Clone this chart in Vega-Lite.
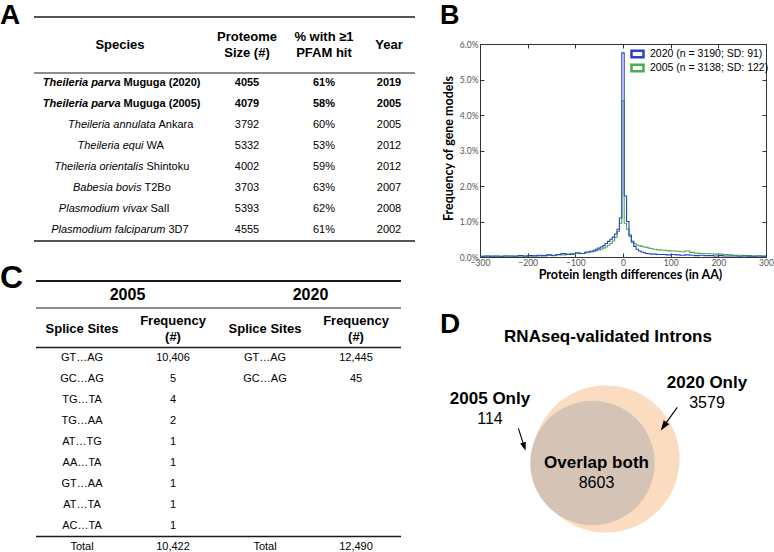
{
  "$schema": "https://vega.github.io/schema/vega-lite/v6.json",
  "width": 774,
  "height": 552,
  "padding": 0,
  "autosize": {"type": "none"},
  "background": "white",
  "config": {"view": {"stroke": null}, "font": "Liberation Sans", "text": {"color": "black"}},
  "datasets": {
    "tA": [
      {"row": 1, "species": "Theileria parva", "strain": "Muguga (2020)", "size": 4055, "pfam": "61%", "year": 2019},
      {"row": 2, "species": "Theileria parva", "strain": "Muguga (2005)", "size": 4079, "pfam": "58%", "year": 2005},
      {"row": 3, "species": "Theileria annulata", "strain": "Ankara", "size": 3792, "pfam": "60%", "year": 2005},
      {"row": 4, "species": "Theileria equi", "strain": "WA", "size": 5332, "pfam": "53%", "year": 2012},
      {"row": 5, "species": "Theileria orientalis", "strain": "Shintoku", "size": 4002, "pfam": "59%", "year": 2012},
      {"row": 6, "species": "Babesia bovis", "strain": "T2Bo", "size": 3703, "pfam": "63%", "year": 2007},
      {"row": 7, "species": "Plasmodium vivax", "strain": "SalI", "size": 5393, "pfam": "62%", "year": 2008},
      {"row": 8, "species": "Plasmodium falciparum", "strain": "3D7", "size": 4555, "pfam": "61%", "year": 2002}
    ],
    "headA": [
      {"col": 0, "label": "Species"},
      {"col": 1, "label": "Proteome\nSize (#)"},
      {"col": 2, "label": "% with ≥1\nPFAM hit"},
      {"col": 3, "label": "Year"}
    ],
    "colsA": [{"key": "size", "col": 1}, {"key": "pfam", "col": 2}, {"key": "year", "col": 3}],
    "letters": [{"id": 1, "letter": "A"}, {"id": 2, "letter": "B"}, {"id": 3, "letter": "C"}, {"id": 4, "letter": "D"}],
    "histLegend": [
      {"yr": 2020, "label": "2020 (n = 3190; SD:  91)"},
      {"yr": 2005, "label": "2005 (n = 3138; SD: 122)"}
    ],
    "hist": [
      {"yr": 2020, "d": -300, "p": 0.02}, {"yr": 2020, "d": -290, "p": 0.03}, {"yr": 2020, "d": -280, "p": 0.02}, {"yr": 2020, "d": -270, "p": 0.03},
      {"yr": 2020, "d": -260, "p": 0.02}, {"yr": 2020, "d": -250, "p": 0.03}, {"yr": 2020, "d": -240, "p": 0.03}, {"yr": 2020, "d": -230, "p": 0.02},
      {"yr": 2020, "d": -220, "p": 0.04}, {"yr": 2020, "d": -210, "p": 0.03}, {"yr": 2020, "d": -200, "p": 0.04}, {"yr": 2020, "d": -190, "p": 0.03},
      {"yr": 2020, "d": -180, "p": 0.05}, {"yr": 2020, "d": -170, "p": 0.04}, {"yr": 2020, "d": -160, "p": 0.06}, {"yr": 2020, "d": -150, "p": 0.05},
      {"yr": 2020, "d": -140, "p": 0.07}, {"yr": 2020, "d": -130, "p": 0.1}, {"yr": 2020, "d": -120, "p": 0.07}, {"yr": 2020, "d": -110, "p": 0.09},
      {"yr": 2020, "d": -100, "p": 0.12}, {"yr": 2020, "d": -90, "p": 0.1}, {"yr": 2020, "d": -80, "p": 0.14}, {"yr": 2020, "d": -70, "p": 0.16},
      {"yr": 2020, "d": -62.5, "p": 0.19}, {"yr": 2020, "d": -57.5, "p": 0.22}, {"yr": 2020, "d": -52.5, "p": 0.25}, {"yr": 2020, "d": -47.5, "p": 0.28},
      {"yr": 2020, "d": -42.5, "p": 0.32}, {"yr": 2020, "d": -37.5, "p": 0.38}, {"yr": 2020, "d": -32.5, "p": 0.44}, {"yr": 2020, "d": -27.5, "p": 0.5},
      {"yr": 2020, "d": -22.5, "p": 0.56}, {"yr": 2020, "d": -17.5, "p": 0.65}, {"yr": 2020, "d": -12.5, "p": 0.78}, {"yr": 2020, "d": -7.5, "p": 1.1},
      {"yr": 2020, "d": -2.5, "p": 5.75}, {"yr": 2020, "d": 2.5, "p": 1.72}, {"yr": 2020, "d": 7.5, "p": 1.0}, {"yr": 2020, "d": 12.5, "p": 0.62},
      {"yr": 2020, "d": 17.5, "p": 0.42}, {"yr": 2020, "d": 22.5, "p": 0.3}, {"yr": 2020, "d": 27.5, "p": 0.22}, {"yr": 2020, "d": 32.5, "p": 0.17},
      {"yr": 2020, "d": 37.5, "p": 0.14}, {"yr": 2020, "d": 42.5, "p": 0.12}, {"yr": 2020, "d": 47.5, "p": 0.1}, {"yr": 2020, "d": 52.5, "p": 0.09},
      {"yr": 2020, "d": 57.5, "p": 0.08}, {"yr": 2020, "d": 62.5, "p": 0.08}, {"yr": 2020, "d": 70, "p": 0.07}, {"yr": 2020, "d": 80, "p": 0.07},
      {"yr": 2020, "d": 90, "p": 0.06}, {"yr": 2020, "d": 100, "p": 0.07}, {"yr": 2020, "d": 110, "p": 0.06}, {"yr": 2020, "d": 120, "p": 0.05},
      {"yr": 2020, "d": 130, "p": 0.06}, {"yr": 2020, "d": 140, "p": 0.05}, {"yr": 2020, "d": 150, "p": 0.04}, {"yr": 2020, "d": 160, "p": 0.05},
      {"yr": 2020, "d": 170, "p": 0.04}, {"yr": 2020, "d": 180, "p": 0.04}, {"yr": 2020, "d": 190, "p": 0.03}, {"yr": 2020, "d": 200, "p": 0.04},
      {"yr": 2020, "d": 210, "p": 0.03}, {"yr": 2020, "d": 220, "p": 0.03}, {"yr": 2020, "d": 230, "p": 0.03}, {"yr": 2020, "d": 240, "p": 0.02},
      {"yr": 2020, "d": 250, "p": 0.03}, {"yr": 2020, "d": 260, "p": 0.02}, {"yr": 2020, "d": 270, "p": 0.02}, {"yr": 2020, "d": 280, "p": 0.03},
      {"yr": 2020, "d": 290, "p": 0.02}, {"yr": 2020, "d": 300, "p": 0.02},
      {"yr": 2005, "d": -300, "p": 0.02}, {"yr": 2005, "d": -290, "p": 0.02}, {"yr": 2005, "d": -280, "p": 0.03}, {"yr": 2005, "d": -270, "p": 0.02},
      {"yr": 2005, "d": -260, "p": 0.02}, {"yr": 2005, "d": -250, "p": 0.03}, {"yr": 2005, "d": -240, "p": 0.02}, {"yr": 2005, "d": -230, "p": 0.03},
      {"yr": 2005, "d": -220, "p": 0.03}, {"yr": 2005, "d": -210, "p": 0.02}, {"yr": 2005, "d": -200, "p": 0.03}, {"yr": 2005, "d": -190, "p": 0.04},
      {"yr": 2005, "d": -180, "p": 0.03}, {"yr": 2005, "d": -170, "p": 0.04}, {"yr": 2005, "d": -160, "p": 0.05}, {"yr": 2005, "d": -150, "p": 0.04},
      {"yr": 2005, "d": -140, "p": 0.06}, {"yr": 2005, "d": -130, "p": 0.06}, {"yr": 2005, "d": -120, "p": 0.08}, {"yr": 2005, "d": -110, "p": 0.07},
      {"yr": 2005, "d": -100, "p": 0.09}, {"yr": 2005, "d": -90, "p": 0.1}, {"yr": 2005, "d": -80, "p": 0.12}, {"yr": 2005, "d": -70, "p": 0.14},
      {"yr": 2005, "d": -62.5, "p": 0.16}, {"yr": 2005, "d": -57.5, "p": 0.18}, {"yr": 2005, "d": -52.5, "p": 0.2}, {"yr": 2005, "d": -47.5, "p": 0.22},
      {"yr": 2005, "d": -42.5, "p": 0.25}, {"yr": 2005, "d": -37.5, "p": 0.28}, {"yr": 2005, "d": -32.5, "p": 0.33}, {"yr": 2005, "d": -27.5, "p": 0.38},
      {"yr": 2005, "d": -22.5, "p": 0.45}, {"yr": 2005, "d": -17.5, "p": 0.55}, {"yr": 2005, "d": -12.5, "p": 0.72}, {"yr": 2005, "d": -7.5, "p": 0.95},
      {"yr": 2005, "d": -2.5, "p": 4.4}, {"yr": 2005, "d": 2.5, "p": 0.95}, {"yr": 2005, "d": 7.5, "p": 0.78}, {"yr": 2005, "d": 12.5, "p": 0.58},
      {"yr": 2005, "d": 17.5, "p": 0.45}, {"yr": 2005, "d": 22.5, "p": 0.38}, {"yr": 2005, "d": 27.5, "p": 0.34}, {"yr": 2005, "d": 32.5, "p": 0.32},
      {"yr": 2005, "d": 37.5, "p": 0.3}, {"yr": 2005, "d": 42.5, "p": 0.28}, {"yr": 2005, "d": 47.5, "p": 0.27}, {"yr": 2005, "d": 52.5, "p": 0.25},
      {"yr": 2005, "d": 57.5, "p": 0.24}, {"yr": 2005, "d": 62.5, "p": 0.22}, {"yr": 2005, "d": 70, "p": 0.2}, {"yr": 2005, "d": 80, "p": 0.19},
      {"yr": 2005, "d": 90, "p": 0.18}, {"yr": 2005, "d": 100, "p": 0.17}, {"yr": 2005, "d": 110, "p": 0.16}, {"yr": 2005, "d": 120, "p": 0.15},
      {"yr": 2005, "d": 130, "p": 0.17}, {"yr": 2005, "d": 140, "p": 0.13}, {"yr": 2005, "d": 150, "p": 0.11}, {"yr": 2005, "d": 160, "p": 0.1},
      {"yr": 2005, "d": 170, "p": 0.1}, {"yr": 2005, "d": 180, "p": 0.09}, {"yr": 2005, "d": 190, "p": 0.08}, {"yr": 2005, "d": 200, "p": 0.08},
      {"yr": 2005, "d": 210, "p": 0.07}, {"yr": 2005, "d": 220, "p": 0.06}, {"yr": 2005, "d": 230, "p": 0.05}, {"yr": 2005, "d": 240, "p": 0.05},
      {"yr": 2005, "d": 250, "p": 0.04}, {"yr": 2005, "d": 260, "p": 0.04}, {"yr": 2005, "d": 270, "p": 0.03}, {"yr": 2005, "d": 280, "p": 0.03},
      {"yr": 2005, "d": 290, "p": 0.03}, {"yr": 2005, "d": 300, "p": 0.03}
    ],
    "tC": [
      {"row": 1, "s2005": "GT…AG", "f2005": 10406, "s2020": "GT…AG", "f2020": 12445},
      {"row": 2, "s2005": "GC…AG", "f2005": 5, "s2020": "GC…AG", "f2020": 45},
      {"row": 3, "s2005": "TG…TA", "f2005": 4},
      {"row": 4, "s2005": "TG…AA", "f2005": 2},
      {"row": 5, "s2005": "AT…TG", "f2005": 1},
      {"row": 6, "s2005": "AA…TA", "f2005": 1},
      {"row": 7, "s2005": "GT…AA", "f2005": 1},
      {"row": 8, "s2005": "AT…TA", "f2005": 1},
      {"row": 9, "s2005": "AC…TA", "f2005": 1},
      {"row": 10, "s2005": "Total", "f2005": 10422, "s2020": "Total", "f2020": 12490}
    ],
    "colsC": [{"key": "s2005", "col": 0}, {"key": "f2005", "col": 1}, {"key": "s2020", "col": 2}, {"key": "f2020", "col": 3}],
    "yearsC": [{"col": 0.5, "label": "2005"}, {"col": 2.5, "label": "2020"}],
    "headC": [
      {"col": 0, "label": "Splice Sites"},
      {"col": 1, "label": "Frequency\n(#)"},
      {"col": 2, "label": "Splice Sites"},
      {"col": 3, "label": "Frequency\n(#)"}
    ],
    "venn": [{"year": 2020, "total": 12182}, {"year": 2005, "total": 8717}],
    "vennLabels": [
      {"id": 0, "name": "RNAseq-validated Introns"},
      {"id": 1, "name": "2005 Only", "count": 114},
      {"id": 2, "name": "Overlap both", "count": 8603},
      {"id": 3, "name": "2020 Only", "count": 3579}
    ]
  },
  "layer": [
    {
      "layer": [
        {"data": {"values": [{}]}, "mark": {"type": "rule", "strokeWidth": 1.6, "color": "#1a1a1a"},
          "encoding": {
            "x": {"datum": -1, "type": "quantitative", "scale": {"domain": [-2, -1, 0, 1, 2, 3, 4], "range": [0, 34, 120, 247, 324, 389, 415], "nice": false, "zero": false}, "axis": null},
            "x2": {"datum": 4},
            "y": {"datum": -1, "type": "quantitative", "scale": {"domain": [-1, 0, 0.5, 1, 8, 8.5], "range": [17, 45, 73, 83, 230, 241], "nice": false, "zero": false}, "axis": null}}},
        {"data": {"values": [{}]}, "mark": {"type": "rule", "strokeWidth": 1.1, "color": "#1a1a1a"},
          "encoding": {
            "x": {"datum": -1, "type": "quantitative", "scale": {"domain": [-2, -1, 0, 1, 2, 3, 4], "range": [0, 34, 120, 247, 324, 389, 415], "nice": false, "zero": false}, "axis": null},
            "x2": {"datum": 4},
            "y": {"datum": 0.5, "type": "quantitative", "scale": {"domain": [-1, 0, 0.5, 1, 8, 8.5], "range": [17, 45, 73, 83, 230, 241], "nice": false, "zero": false}, "axis": null}}},
        {"data": {"values": [{}]}, "mark": {"type": "rule", "strokeWidth": 1.6, "color": "#1a1a1a"},
          "encoding": {
            "x": {"datum": -1, "type": "quantitative", "scale": {"domain": [-2, -1, 0, 1, 2, 3, 4], "range": [0, 34, 120, 247, 324, 389, 415], "nice": false, "zero": false}, "axis": null},
            "x2": {"datum": 4},
            "y": {"datum": 8.5, "type": "quantitative", "scale": {"domain": [-1, 0, 0.5, 1, 8, 8.5], "range": [17, 45, 73, 83, 230, 241], "nice": false, "zero": false}, "axis": null}}},
        {"data": {"name": "headA"}, "transform": [{"filter": "datum.col == 0 || datum.col == 3"}],
          "mark": {"type": "text", "fontWeight": "bold", "fontSize": 13, "baseline": "middle", "align": "center"},
          "encoding": {
            "x": {"field": "col", "type": "quantitative", "scale": {"domain": [-2, -1, 0, 1, 2, 3, 4], "range": [0, 34, 120, 247, 324, 389, 415], "nice": false, "zero": false}, "axis": null},
            "y": {"datum": 0, "type": "quantitative", "scale": {"domain": [-1, 0, 0.5, 1, 8, 8.5], "range": [17, 45, 73, 83, 230, 241], "nice": false, "zero": false}, "axis": null},
            "text": {"field": "label"}}},
        {"data": {"name": "headA"}, "transform": [{"filter": "datum.col == 1 || datum.col == 2"}],
          "mark": {"type": "text", "fontWeight": "bold", "fontSize": 13, "lineHeight": 15.5, "lineBreak": "\n", "baseline": "middle", "align": "center", "dy": -7.75},
          "encoding": {
            "x": {"field": "col", "type": "quantitative", "scale": {"domain": [-2, -1, 0, 1, 2, 3, 4], "range": [0, 34, 120, 247, 324, 389, 415], "nice": false, "zero": false}, "axis": null},
            "y": {"datum": 0, "type": "quantitative", "scale": {"domain": [-1, 0, 0.5, 1, 8, 8.5], "range": [17, 45, 73, 83, 230, 241], "nice": false, "zero": false}, "axis": null},
            "text": {"field": "label"}}},
        {"data": {"name": "tA"},
          "transform": [
            {"fold": ["size", "pfam", "year"], "as": ["key", "val"]},
            {"lookup": "key", "from": {"data": {"name": "colsA"}, "key": "key", "fields": ["col"]}},
            {"filter": "datum.row <= 2"}
          ],
          "mark": {"type": "text", "fontWeight": "bold", "fontSize": 11, "baseline": "middle", "align": "center"},
          "encoding": {
            "x": {"field": "col", "type": "quantitative", "scale": {"domain": [-2, -1, 0, 1, 2, 3, 4], "range": [0, 34, 120, 247, 324, 389, 415], "nice": false, "zero": false}, "axis": null},
            "y": {"field": "row", "type": "quantitative", "scale": {"domain": [-1, 0, 0.5, 1, 8, 8.5], "range": [17, 45, 73, 83, 230, 241], "nice": false, "zero": false}, "axis": null},
            "text": {"field": "val", "type": "nominal"}}},
        {"data": {"name": "tA"},
          "transform": [
            {"fold": ["size", "pfam", "year"], "as": ["key", "val"]},
            {"lookup": "key", "from": {"data": {"name": "colsA"}, "key": "key", "fields": ["col"]}},
            {"filter": "datum.row > 2"}
          ],
          "mark": {"type": "text", "fontSize": 11, "baseline": "middle", "align": "center"},
          "encoding": {
            "x": {"field": "col", "type": "quantitative", "scale": {"domain": [-2, -1, 0, 1, 2, 3, 4], "range": [0, 34, 120, 247, 324, 389, 415], "nice": false, "zero": false}, "axis": null},
            "y": {"field": "row", "type": "quantitative", "scale": {"domain": [-1, 0, 0.5, 1, 8, 8.5], "range": [17, 45, 73, 83, 230, 241], "nice": false, "zero": false}, "axis": null},
            "text": {"field": "val", "type": "nominal"}}}
      ]
    },
    {
      "data": {"name": "tA"},
      "layer": [
        {"transform": [{"filter": "datum.row <= 2"}],
          "mark": {"type": "text", "fontWeight": "bold", "fontStyle": "italic", "fontSize": 11, "baseline": "middle", "align": "right"},
          "encoding": {
            "x": {"field": "row", "type": "quantitative", "scale": {"domain": [1, 2, 3, 4, 5, 6, 7, 8], "range": [120.5, 120.5, 155.5, 143.5, 143.5, 141.5, 147.5, 165.5], "nice": false, "zero": false}, "axis": null},
            "y": {"field": "row", "type": "quantitative", "scale": {"domain": [1, 8], "range": [83, 230], "nice": false, "zero": false}, "axis": null},
            "text": {"field": "species"}}},
        {"transform": [{"filter": "datum.row <= 2"}],
          "mark": {"type": "text", "fontWeight": "bold", "fontSize": 11, "baseline": "middle", "align": "left", "dx": 3},
          "encoding": {
            "x": {"field": "row", "type": "quantitative", "scale": {"domain": [1, 2, 3, 4, 5, 6, 7, 8], "range": [120.5, 120.5, 155.5, 143.5, 143.5, 141.5, 147.5, 165.5], "nice": false, "zero": false}, "axis": null},
            "y": {"field": "row", "type": "quantitative", "scale": {"domain": [1, 8], "range": [83, 230], "nice": false, "zero": false}, "axis": null},
            "text": {"field": "strain"}}},
        {"transform": [{"filter": "datum.row > 2"}],
          "mark": {"type": "text", "fontStyle": "italic", "fontSize": 11, "baseline": "middle", "align": "right"},
          "encoding": {
            "x": {"field": "row", "type": "quantitative", "scale": {"domain": [1, 2, 3, 4, 5, 6, 7, 8], "range": [120.5, 120.5, 155.5, 143.5, 143.5, 141.5, 147.5, 165.5], "nice": false, "zero": false}, "axis": null},
            "y": {"field": "row", "type": "quantitative", "scale": {"domain": [1, 8], "range": [83, 230], "nice": false, "zero": false}, "axis": null},
            "text": {"field": "species"}}},
        {"transform": [{"filter": "datum.row > 2"}],
          "mark": {"type": "text", "fontSize": 11, "baseline": "middle", "align": "left", "dx": 3},
          "encoding": {
            "x": {"field": "row", "type": "quantitative", "scale": {"domain": [1, 2, 3, 4, 5, 6, 7, 8], "range": [120.5, 120.5, 155.5, 143.5, 143.5, 141.5, 147.5, 165.5], "nice": false, "zero": false}, "axis": null},
            "y": {"field": "row", "type": "quantitative", "scale": {"domain": [1, 8], "range": [83, 230], "nice": false, "zero": false}, "axis": null},
            "text": {"field": "strain"}}}
      ]
    },
    {
      "data": {"name": "letters"},
      "mark": {"type": "text", "fontWeight": "bold", "align": "left", "baseline": "alphabetic"},
      "encoding": {
        "x": {"field": "id", "type": "quantitative", "scale": {"domain": [1, 2, 3, 4], "range": [0, 440, 0, 440], "nice": false, "zero": false}, "axis": null},
        "y": {"field": "id", "type": "quantitative", "scale": {"domain": [1, 2, 3, 4], "range": [24, 24, 288, 333], "nice": false, "zero": false}, "axis": null},
        "size": {"field": "id", "type": "quantitative", "scale": {"domain": [1, 2, 3, 4], "range": [28, 27, 32, 28], "zero": false}, "legend": null},
        "text": {"field": "letter"}
      }
    },
    {
      "resolve": {"axis": {"x": "independent", "y": "independent"}},
      "layer": [
        {"data": {"name": "hist"},
          "transform": [
            {"filter": "datum.yr == 2005"},
            {"lookup": "yr", "from": {"data": {"name": "histLegend"}, "key": "yr", "fields": ["label"]}}
          ],
          "mark": {"type": "line", "interpolate": "step-after", "strokeWidth": 1.1},
          "encoding": {
            "x": {"field": "d", "type": "quantitative", "scale": {"domain": [-300, 300], "range": [480, 766], "nice": false, "zero": false},
              "axis": {"orient": "bottom", "offset": -295, "values": [-300, -200, -100, 0, 100, 200, 300], "format": "d", "tickSize": -4, "tickColor": "#333", "domainColor": "#333", "labelPadding": 5, "labelFont": "Lato", "labelFontSize": 8.5, "labelColor": "#555", "labelFlush": false, "labelOverlap": false, "grid": false,
                "title": "Protein length differences (in AA)", "titleFont": "Lato", "titleFontSize": 12.5, "titleFontWeight": "bold", "titleColor": "black", "titleX": 630, "titleY": 17.5, "titleBaseline": "middle", "titleAlign": "center"}},
            "y": {"field": "p", "type": "quantitative", "scale": {"domain": [0, 6], "range": [257, 44], "nice": false, "zero": false},
              "axis": {"orient": "left", "offset": -480, "values": [0, 1, 2, 3, 4, 5, 6], "labelExpr": "format(datum.value, '.1f') + '%'", "tickSize": -4, "tickColor": "#333", "domainColor": "#333", "labelPadding": 6, "labelFont": "Lato", "labelFontSize": 8.5, "labelColor": "#555", "labelFlush": false, "labelOverlap": false, "grid": false,
                "title": "Frequency of gene models", "titleFont": "Lato", "titleFontSize": 12.5, "titleFontWeight": "bold", "titleColor": "black", "titleX": -32, "titleY": 148, "titleAngle": -90, "titleBaseline": "middle", "titleAlign": "center"}},
            "color": {"field": "label", "type": "nominal",
              "scale": {"domain": ["2020 (n = 3190; SD:  91)", "2005 (n = 3138; SD: 122)"], "range": ["#2b40c8", "#45b04f"]},
              "legend": {"orient": "none", "legendX": 630, "legendY": 47, "title": null, "symbolType": "M-1,-0.55H1V0.55H-1Z", "symbolSize": 144, "symbolStrokeWidth": 2.5, "symbolFillColor": "white", "labelFont": "Liberation Sans", "labelFontSize": 10.5, "labelColor": "black", "labelOffset": 5, "rowPadding": 0, "clipHeight": 14, "padding": 0}}
          }},
        {"data": {"name": "hist"},
          "transform": [
            {"filter": "datum.yr == 2020"},
            {"lookup": "yr", "from": {"data": {"name": "histLegend"}, "key": "yr", "fields": ["label"]}}
          ],
          "mark": {"type": "line", "interpolate": "step-after", "strokeWidth": 1.1},
          "encoding": {
            "x": {"field": "d", "type": "quantitative", "scale": {"domain": [-300, 300], "range": [480, 766], "nice": false, "zero": false}, "axis": null},
            "y": {"field": "p", "type": "quantitative", "scale": {"domain": [0, 6], "range": [257, 44], "nice": false, "zero": false}, "axis": null},
            "color": {"field": "label", "type": "nominal",
              "scale": {"domain": ["2020 (n = 3190; SD:  91)", "2005 (n = 3138; SD: 122)"], "range": ["#2b40c8", "#45b04f"]}}
          }},
        {"data": {"values": [{}]},
          "mark": {"type": "point", "opacity": 0},
          "encoding": {
            "x": {"datum": 0, "type": "quantitative", "scale": {"domain": [-300, 300], "range": [480, 766], "nice": false, "zero": false},
              "axis": {"orient": "top", "offset": -44, "values": [-300, -200, -100, 0, 100, 200, 300], "labels": false, "tickSize": -4, "tickColor": "#333", "domainColor": "#333", "grid": false, "title": null}},
            "y": {"datum": 0, "type": "quantitative", "scale": {"domain": [0, 6], "range": [257, 44], "nice": false, "zero": false},
              "axis": {"orient": "right", "offset": -8, "values": [0, 1, 2, 3, 4, 5, 6], "labels": false, "tickSize": -4, "tickColor": "#333", "domainColor": "#333", "grid": false, "title": null}}
          }}
      ]
    },
    {
      "layer": [
        {"data": {"values": [{}]}, "mark": {"type": "rule", "strokeWidth": 2, "color": "#1a1a1a"},
          "encoding": {
            "x": {"datum": -1, "type": "quantitative", "scale": {"domain": [-1, 0, 1, 2, 3, 4], "range": [36, 82, 173, 265, 356, 401], "nice": false, "zero": false}, "axis": null},
            "x2": {"datum": 4},
            "y": {"datum": -3, "type": "quantitative", "scale": {"domain": [-3, -2, -1, 0, 0.5, 10], "range": [281, 295, 308, 329, 347.5, 547], "nice": false, "zero": false}, "axis": null}}},
        {"data": {"values": [{}]}, "mark": {"type": "rule", "strokeWidth": 1, "color": "#1a1a1a"},
          "encoding": {
            "x": {"datum": -1, "type": "quantitative", "scale": {"domain": [-1, 0, 1, 2, 3, 4], "range": [36, 82, 173, 265, 356, 401], "nice": false, "zero": false}, "axis": null},
            "x2": {"datum": 4},
            "y": {"datum": -1, "type": "quantitative", "scale": {"domain": [-3, -2, -1, 0, 0.5, 10], "range": [281, 295, 308, 329, 347.5, 547], "nice": false, "zero": false}, "axis": null}}},
        {"data": {"values": [{}]}, "mark": {"type": "rule", "strokeWidth": 1.5, "color": "#1a1a1a"},
          "encoding": {
            "x": {"datum": -1, "type": "quantitative", "scale": {"domain": [-1, 0, 1, 2, 3, 4], "range": [36, 82, 173, 265, 356, 401], "nice": false, "zero": false}, "axis": null},
            "x2": {"datum": 4},
            "y": {"datum": 0.5, "type": "quantitative", "scale": {"domain": [-3, -2, -1, 0, 0.5, 10], "range": [281, 295, 308, 329, 347.5, 547], "nice": false, "zero": false}, "axis": null}}},
        {"data": {"values": [{}]}, "mark": {"type": "rule", "strokeWidth": 1.5, "color": "#1a1a1a"},
          "encoding": {
            "x": {"datum": -1, "type": "quantitative", "scale": {"domain": [-1, 0, 1, 2, 3, 4], "range": [36, 82, 173, 265, 356, 401], "nice": false, "zero": false}, "axis": null},
            "x2": {"datum": 4},
            "y": {"datum": 9.5, "type": "quantitative", "scale": {"domain": [-3, -2, -1, 0, 0.5, 10], "range": [281, 295, 308, 329, 347.5, 547], "nice": false, "zero": false}, "axis": null}}},
        {"data": {"name": "yearsC"}, "mark": {"type": "text", "fontWeight": "bold", "fontSize": 16, "baseline": "middle", "align": "center"},
          "encoding": {
            "x": {"field": "col", "type": "quantitative", "scale": {"domain": [-1, 0, 1, 2, 3, 4], "range": [36, 82, 173, 265, 356, 401], "nice": false, "zero": false}, "axis": null},
            "y": {"datum": -2, "type": "quantitative", "scale": {"domain": [-3, -2, -1, 0, 0.5, 10], "range": [281, 295, 308, 329, 347.5, 547], "nice": false, "zero": false}, "axis": null},
            "text": {"field": "label"}}},
        {"data": {"name": "headC"}, "transform": [{"filter": "datum.col == 0 || datum.col == 2"}],
          "mark": {"type": "text", "fontWeight": "bold", "fontSize": 13, "baseline": "middle", "align": "center"},
          "encoding": {
            "x": {"field": "col", "type": "quantitative", "scale": {"domain": [-1, 0, 1, 2, 3, 4], "range": [36, 82, 173, 265, 356, 401], "nice": false, "zero": false}, "axis": null},
            "y": {"datum": 0, "type": "quantitative", "scale": {"domain": [-3, -2, -1, 0, 0.5, 10], "range": [281, 295, 308, 329, 347.5, 547], "nice": false, "zero": false}, "axis": null},
            "text": {"field": "label"}}},
        {"data": {"name": "headC"}, "transform": [{"filter": "datum.col == 1 || datum.col == 3"}],
          "mark": {"type": "text", "fontWeight": "bold", "fontSize": 13, "lineHeight": 15.5, "lineBreak": "\n", "baseline": "middle", "align": "center", "dy": -7.75},
          "encoding": {
            "x": {"field": "col", "type": "quantitative", "scale": {"domain": [-1, 0, 1, 2, 3, 4], "range": [36, 82, 173, 265, 356, 401], "nice": false, "zero": false}, "axis": null},
            "y": {"datum": 0, "type": "quantitative", "scale": {"domain": [-3, -2, -1, 0, 0.5, 10], "range": [281, 295, 308, 329, 347.5, 547], "nice": false, "zero": false}, "axis": null},
            "text": {"field": "label"}}},
        {"data": {"name": "tC"},
          "transform": [
            {"fold": ["s2005", "s2020"], "as": ["key", "val"]},
            {"filter": "datum.val != null"},
            {"lookup": "key", "from": {"data": {"name": "colsC"}, "key": "key", "fields": ["col"]}}
          ],
          "mark": {"type": "text", "fontSize": 11, "baseline": "middle", "align": "center"},
          "encoding": {
            "x": {"field": "col", "type": "quantitative", "scale": {"domain": [-1, 0, 1, 2, 3, 4], "range": [36, 82, 173, 265, 356, 401], "nice": false, "zero": false}, "axis": null},
            "y": {"field": "row", "type": "quantitative", "scale": {"domain": [-3, -2, -1, 0, 0.5, 10], "range": [281, 295, 308, 329, 347.5, 547], "nice": false, "zero": false}, "axis": null},
            "text": {"field": "val", "type": "nominal"}}},
        {"data": {"name": "tC"},
          "transform": [
            {"fold": ["f2005", "f2020"], "as": ["key", "val"]},
            {"filter": "datum.val != null"},
            {"lookup": "key", "from": {"data": {"name": "colsC"}, "key": "key", "fields": ["col"]}}
          ],
          "mark": {"type": "text", "fontSize": 11, "baseline": "middle", "align": "center"},
          "encoding": {
            "x": {"field": "col", "type": "quantitative", "scale": {"domain": [-1, 0, 1, 2, 3, 4], "range": [36, 82, 173, 265, 356, 401], "nice": false, "zero": false}, "axis": null},
            "y": {"field": "row", "type": "quantitative", "scale": {"domain": [-3, -2, -1, 0, 0.5, 10], "range": [281, 295, 308, 329, 347.5, 547], "nice": false, "zero": false}, "axis": null},
            "text": {"field": "val", "type": "quantitative", "format": ","}}}
      ]
    },
    {
      "data": {"name": "venn"},
      "mark": {"type": "point", "shape": "circle", "filled": true, "opacity": 1, "strokeWidth": 0},
      "encoding": {
        "x": {"field": "year", "type": "quantitative", "scale": {"domain": [2005, 2020], "range": [592.5, 606], "nice": false, "zero": false}, "axis": null},
        "y": {"field": "year", "type": "quantitative", "scale": {"domain": [2005, 2020], "range": [463, 459], "nice": false, "zero": false}, "axis": null},
        "size": {"field": "total", "type": "quantitative", "scale": {"domain": [0, 12182], "range": [0, 21642], "zero": true}, "legend": null},
        "color": {"field": "year", "type": "nominal", "scale": {"domain": [2020, 2005], "range": ["#FCDCC0", "#D5C4B6"]}, "legend": null}
      }
    },
    {
      "data": {"name": "vennLabels"},
      "layer": [
        {"transform": [{"filter": "datum.id == 0"}],
          "mark": {"type": "text", "fontWeight": "bold", "fontSize": 17, "baseline": "middle", "align": "center"},
          "encoding": {
            "x": {"field": "id", "type": "quantitative", "scale": {"domain": [0, 1, 2, 3], "range": [608, 490, 596.5, 707], "nice": false, "zero": false}, "axis": null},
            "y": {"field": "id", "type": "quantitative", "scale": {"domain": [0, 1, 2, 3], "range": [337, 409, 473, 393], "nice": false, "zero": false}, "axis": null},
            "text": {"field": "name"}}},
        {"transform": [{"filter": "datum.id >= 1"}],
          "mark": {"type": "text", "fontWeight": "bold", "fontSize": 17, "baseline": "middle", "align": "center", "dy": -10},
          "encoding": {
            "x": {"field": "id", "type": "quantitative", "scale": {"domain": [0, 1, 2, 3], "range": [608, 490, 596.5, 707], "nice": false, "zero": false}, "axis": null},
            "y": {"field": "id", "type": "quantitative", "scale": {"domain": [0, 1, 2, 3], "range": [337, 409, 473, 393], "nice": false, "zero": false}, "axis": null},
            "text": {"field": "name"}}},
        {"transform": [{"filter": "datum.id >= 1"}],
          "mark": {"type": "text", "fontSize": 16, "baseline": "middle", "align": "center", "dy": 10},
          "encoding": {
            "x": {"field": "id", "type": "quantitative", "scale": {"domain": [0, 1, 2, 3], "range": [608, 490, 596.5, 707], "nice": false, "zero": false}, "axis": null},
            "y": {"field": "id", "type": "quantitative", "scale": {"domain": [0, 1, 2, 3], "range": [337, 409, 473, 393], "nice": false, "zero": false}, "axis": null},
            "text": {"field": "count", "type": "quantitative", "format": "d"}}}
      ]
    },
    {
      "data": {"name": "vennLabels"},
      "transform": [{"filter": "datum.id == 1 || datum.id == 3"}],
      "mark": {"type": "point", "shape": "M0,-1L0,0.5M-0.2,0.42L0,1L0.2,0.42Z", "filled": true, "color": "black", "stroke": "black", "strokeWidth": 1.1, "opacity": 1},
      "encoding": {
        "x": {"field": "id", "type": "quantitative", "scale": {"domain": [1, 3], "range": [521.7, 669.5], "nice": false, "zero": false}, "axis": null},
        "y": {"field": "id", "type": "quantitative", "scale": {"domain": [1, 3], "range": [438.7, 418.2], "nice": false, "zero": false}, "axis": null},
        "angle": {"field": "id", "type": "quantitative", "scale": {"domain": [1, 3], "range": [-17.9, 35.7], "zero": false}},
        "size": {"field": "id", "type": "quantitative", "scale": {"domain": [1, 3], "range": [475, 713], "zero": false}, "legend": null}
      }
    }
  ],
  "resolve": {
    "scale": {"x": "independent", "y": "independent", "size": "independent", "color": "independent", "angle": "independent"},
    "axis": {"x": "independent", "y": "independent"},
    "legend": {"size": "independent", "color": "independent"}
  }
}
